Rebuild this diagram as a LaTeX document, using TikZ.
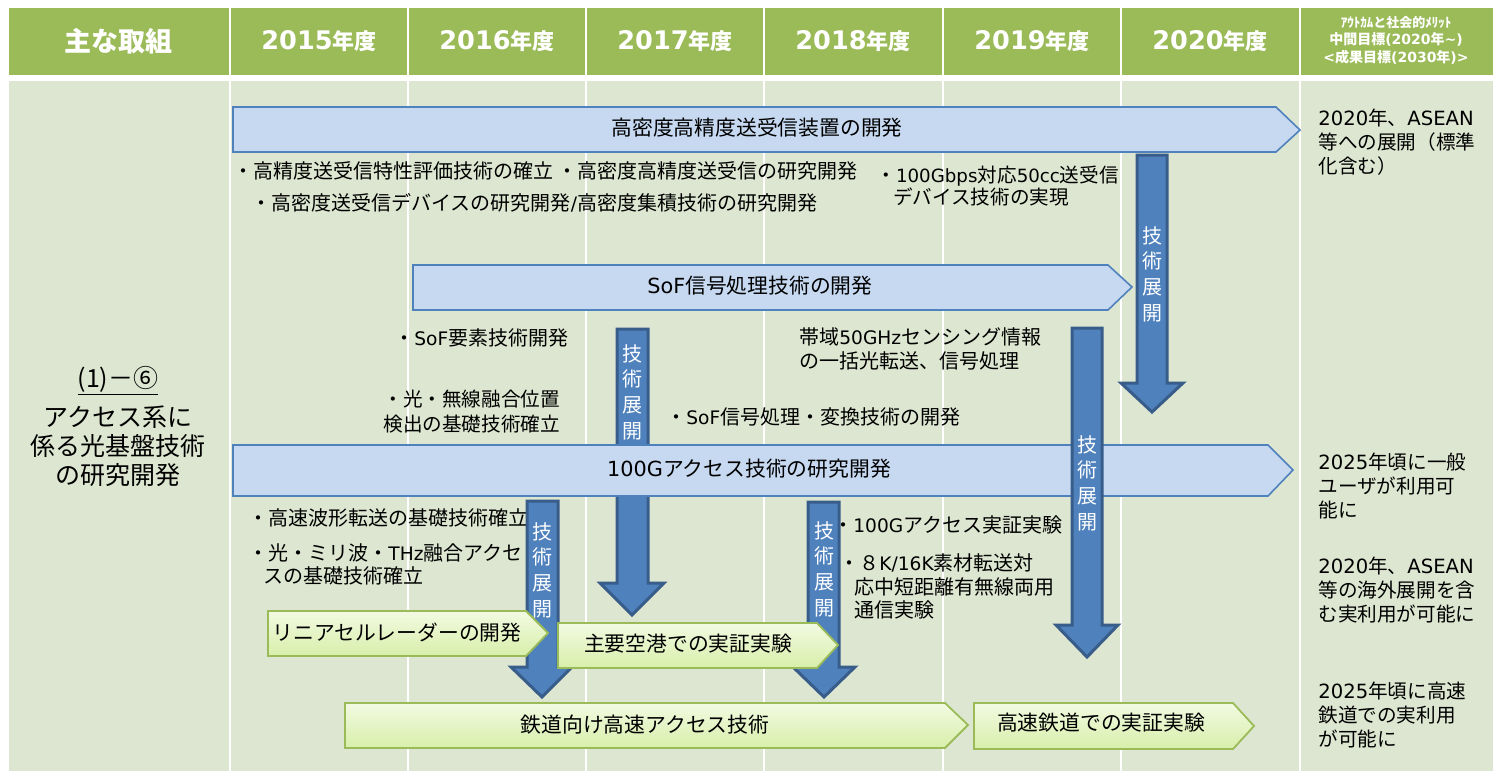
\documentclass[tikz,border=0pt]{standalone}
\usepackage{fontspec}
\setmainfont{Noto Sans CJK JP}
\newfontfamily\LAf{DejaVu Sans}
\newfontfamily\LAs{DejaVu Sans}[Scale=0.93]
\newcommand\LA[1]{{\LAs #1}}
\newcommand\LR[1]{{\LAf #1}}
\newcommand\yr[1]{{\fontsize{12.8}{14}\selectfont\LAf\bfseries #1}{\fontsize{11}{13}\selectfont\bfseries 年度}}
\definecolor{hdrgreen}{HTML}{9BBB59}
\definecolor{bodybg}{HTML}{DDE6D0}
\definecolor{barfill}{HTML}{C6D9F1}
\definecolor{barline}{HTML}{4F81BD}
\definecolor{arrfill}{HTML}{4F81BD}
\definecolor{arrline}{HTML}{385D8A}
\definecolor{grtop}{HTML}{F2FAE2}
\definecolor{grbot}{HTML}{D8EFAA}
\tikzset{
  hdr/.style={text=white, font=\fontsize{13.5}{15}\selectfont\bfseries, inner sep=0pt},
  txt/.style={anchor=west, inner sep=0pt, align=left, text=black, font=\fontsize{10}{12}\selectfont},
  rtxt/.style={anchor=west, inner sep=0pt, align=left, text=black, font=\fontsize{9.8}{12}\selectfont},
  bartxt/.style={inner sep=0pt, text=black, font=\fontsize{10.4}{12}\selectfont},
  vt/.style={inner sep=0pt, align=center, text=white, font=\fontsize{10}{12.85}\selectfont},
  bluebar/.style={fill=barfill, draw=barline, line width=0.8pt, line join=miter},
  greenbox/.style={top color=grtop, bottom color=grbot, draw=hdrgreen, line width=0.9pt, line join=miter},
  downarrow/.style={fill=arrfill, draw=arrline, line width=1.5pt, line join=miter},
}
\begin{document}
\begin{tikzpicture}[x=0.5pt,y=-0.5pt]
\useasboundingbox (0,0) rectangle (1501,773);
\fill[white] (0,0) rectangle (1501,773);
% columns
\foreach \a/\b in {9/229, 231/407, 409/585, 587/763, 765/942, 944/1120, 1122/1299, 1301/1493}{
  \fill[hdrgreen] (\a,8) rectangle (\b,75);
  \fill[bodybg] (\a,81) rectangle (\b,771);
}
% header texts
\node[hdr] (h0) at (118,41) {主な取組};
\node[hdr] (h1) at (319,41) {\yr{2015}};
\node[hdr] (h2) at (497,41) {\yr{2016}};
\node[hdr] (h3) at (675,41) {\yr{2017}};
\node[hdr] (h4) at (853,41) {\yr{2018}};
\node[hdr] (h5) at (1032,41) {\yr{2019}};
\node[hdr] (h6) at (1210,41) {\yr{2020}};
\node[hdr, align=center, font=\fontsize{7}{8.7}\selectfont\bfseries] (h7) at (1396,40)
  {{\fontsize{6.5}{8.7}\selectfont ｱｳﾄｶﾑと社会的ﾒﾘｯﾄ}\\中間目標{\LAf\bfseries (2020}年{\LAf\bfseries \char`~)}\\{\LAf\bfseries <}成果目標{\LAf\bfseries (2030}年{\LAf\bfseries )>}};
% left column
\node[inner sep=0pt, font=\fontsize{12.5}{14.5}\selectfont] (lt1) at (118,381) {\underline{(1)－⑥}};
\node[inner sep=0pt, align=center, font=\fontsize{12.5}{14.5}\selectfont] (lt2) at (118,446) {アクセス系に\\係る光基盤技術\\の研究開発};
% body texts
\node[txt] (t1) at (233,171) {・高精度送受信特性評価技術の確立 ・高密度高精度送受信の研究開発};
\node[txt] (t2) at (251,203) {・高密度送受信デバイスの研究開発\LA{/}高密度集積技術の研究開発};
\node[txt, font=\fontsize{9.8}{11}\selectfont] (t3) at (876,186) {・\LA{100Gbps}対応\LA{50cc}送受信\\\hspace{0.85em}デバイス技術の実現};
\node[txt] (t4) at (394,338) {・\LA{SoF}要素技術開発};
\node[txt, font=\fontsize{9.8}{12.5}\selectfont] (t5) at (383,411.5) {・光・無線融合位置\\検出の基礎技術確立};
\node[txt] (t6) at (799,349) {帯域\LA{50GHz}センシング情報\\の一括光転送、信号処理};
\node[txt] (t7) at (666,417) {・\LA{SoF}信号処理・変換技術の開発};
\node[txt] (t8) at (248,518) {・高速波形転送の基礎技術確立};
\node[txt, font=\fontsize{10}{11.5}\selectfont] (t9) at (248,564.5) {・光・ミリ波・\LA{THz}融合アクセ\\\hspace{0.75em}スの基礎技術確立};
\node[txt] (t10) at (833,525) {・\LA{100G}アクセス実証実験};
\node[txt, font=\fontsize{10}{11.75}\selectfont] (t11) at (839,586.5) {・８\LA{K/16K}素材転送対\\\hspace{0.75em}応中短距離有無線両用\\\hspace{0.75em}通信実験};
% right column
\node[rtxt] (r1) at (1318,142) {\LR{2020}年、\LR{ASEAN}\\等への展開（標準\\化含む）};
\node[rtxt] (r2) at (1318,486) {\LR{2025}年頃に一般\\ユーザが利用可\\能に};
\node[rtxt] (r3) at (1318,590) {\LR{2020}年、\LR{ASEAN}\\等の海外展開を含\\む実利用が可能に};
\node[rtxt] (r4) at (1318,715) {\LR{2025}年頃に高速\\鉄道での実利用\\が可能に};
% arrows behind bars
\filldraw[downarrow] (617,329) -- (648,329) -- (648,583) -- (664,583) -- (632,615) -- (600,583) -- (617,583) -- cycle;
\node[vt] (vC) at (632,392) {技\\術\\展\\開};
\filldraw[downarrow] (1137,155) -- (1167,155) -- (1167,383) -- (1183,383) -- (1152,412) -- (1121,383) -- (1137,383) -- cycle;
\node[vt] (vA) at (1152,274) {技\\術\\展\\開};
% blue bars
\filldraw[bluebar] (233,107) -- (1276,107) -- (1300,130) -- (1276,152) -- (233,152) -- cycle;
\node[bartxt] (b1) at (757,128) {高密度高精度送受信装置の開発};
\filldraw[bluebar] (413,265) -- (1108,265) -- (1132,287) -- (1108,310) -- (413,310) -- cycle;
\node[bartxt] (b2) at (760,286) {\LR{SoF}信号処理技術の開発};
\filldraw[bluebar] (233,445) -- (1268,445) -- (1293,470) -- (1268,496) -- (233,496) -- cycle;
\node[bartxt] (b3) at (749,469) {\LR{100G}アクセス技術の研究開発};
% arrows in front
\filldraw[downarrow] (1072,328) -- (1102,328) -- (1102,625) -- (1118,625) -- (1087,657) -- (1056,625) -- (1072,625) -- cycle;
\node[vt] (vB) at (1087,483) {技\\術\\展\\開};
\filldraw[downarrow] (527,501) -- (558,501) -- (558,667) -- (572,667) -- (542,697) -- (511,667) -- (527,667) -- cycle;
\node[vt] (vD) at (542,570) {技\\術\\展\\開};
\filldraw[downarrow] (808,502) -- (839,502) -- (839,667) -- (855,667) -- (824,697) -- (793,667) -- (808,667) -- cycle;
\node[vt] (vE) at (824,569) {技\\術\\展\\開};
% green boxes
\path[greenbox] (268,611) -- (526,611) -- (548,633) -- (526,656) -- (268,656) -- cycle;
\node[bartxt] (g1) at (397,633) {リニアセルレーダーの開発};
\path[greenbox] (558,623) -- (817,623) -- (838,645) -- (817,668) -- (558,668) -- cycle;
\node[bartxt] (g2) at (688,644) {主要空港での実証実験};
\path[greenbox] (345,703) -- (945,703) -- (968,725) -- (945,748) -- (345,748) -- cycle;
\node[bartxt] (g3) at (645,725) {鉄道向け高速アクセス技術};
\path[greenbox] (974,703) -- (1233,703) -- (1254,726) -- (1233,749) -- (974,749) -- cycle;
\node[bartxt] (g4) at (1101,723) {高速鉄道での実証実験};
\end{tikzpicture}
\end{document}
